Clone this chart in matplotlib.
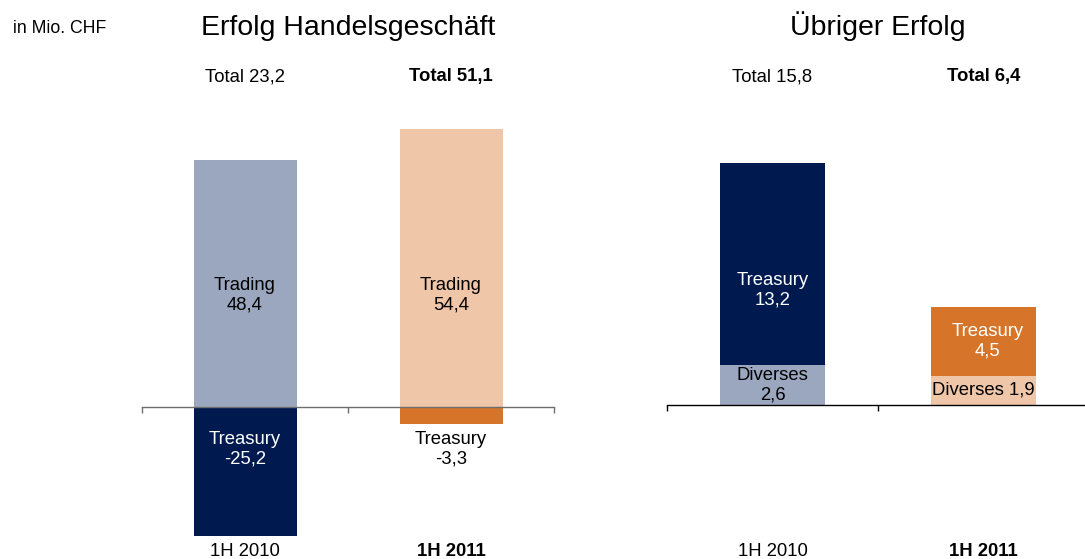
import matplotlib
matplotlib.use('Agg')
import matplotlib.pyplot as plt
from matplotlib.transforms import blended_transform_factory

plt.rcParams['font.family'] = ['Liberation Sans', 'DejaVu Sans']

# ---------------- data ----------------
periods = ['1H 2010', '1H 2011']
handel_trading = [48.4, 54.4]
handel_treasury = [-25.2, -3.3]
handel_total = [23.2, 51.1]
uebrig_diverses = [2.6, 1.9]
uebrig_treasury = [13.2, 4.5]
uebrig_total = [15.8, 6.4]

# ---------------- style ----------------
c10_light = '#9BA7BF'
c10_dark = '#001A50'
c11_light = '#F0C6A8'
c11_dark = '#D67429'
W, H = 1085, 559


def fmt(v):
    return f'{v:.1f}'.replace('.', ',')


def fy(px):  # pixel from top -> figure fraction
    return (H - px) / H


fig = plt.figure(figsize=(W / 100, H / 100), dpi=100)
fig.patch.set_facecolor('white')

FS = 13.3
xpos = [0.5, 1.5]
weights = ['normal', 'bold']

# ---------------- left panel ----------------
zl, sl = 407, 5.11
ylo, yhi = -28, 58
axl = fig.add_axes([142 / W, fy(zl - ylo * sl), 412 / W, (yhi - ylo) * sl / H])
axl.bar(xpos, handel_trading, width=0.5, color=[c10_light, c11_light], zorder=1)
axl.bar(xpos, handel_treasury, width=0.5, color=[c10_dark, c11_dark], zorder=1)
axl.set_xlim(0, 2)
axl.set_ylim(ylo, yhi)

# ---------------- right panel ----------------
zr, sr = 405, 15.3
rlo, rhi = -8, 17
axr = fig.add_axes([667 / W, fy(zr - rlo * sr), 422 / W, (rhi - rlo) * sr / H])
axr.bar(xpos, uebrig_diverses, width=0.5, color=[c10_light, c11_light], zorder=1)
axr.bar(xpos, uebrig_treasury, width=0.5, bottom=uebrig_diverses,
        color=[c10_dark, c11_dark], zorder=1)
axr.set_xlim(0, 2)
axr.set_ylim(rlo, rhi)

for ax, col in [(axl, '#6E6E6E'), (axr, '#000000')]:
    for s in ['top', 'left', 'right']:
        ax.spines[s].set_visible(False)
    ax.spines['bottom'].set_position(('data', 0))
    ax.spines['bottom'].set_color(col)
    ax.spines['bottom'].set_linewidth(1.0)
    ax.set_xticks([0, 1, 2])
    ax.set_xticklabels([])
    ax.set_yticks([])
    ax.tick_params(axis='x', direction='out', length=4, width=1.0, color=col)
    ax.patch.set_alpha(0)

# ---------------- texts ----------------
fig.text(13 / W, fy(33), 'in Mio. CHF', fontsize=12.7, ha='left', va='baseline')

for ax, title, totals in [(axl, 'Erfolg Handelsgeschäft', handel_total),
                          (axr, 'Übriger Erfolg', uebrig_total)]:
    tr = blended_transform_factory(ax.transData, fig.transFigure)
    ax.text(1, fy(35), title, transform=tr, fontsize=20.5, ha='center', va='baseline')
    for i, x in enumerate(xpos):
        ax.text(x, fy(81), 'Total ' + fmt(totals[i]), transform=tr, fontsize=FS,
                ha='center', va='baseline', fontweight=weights[i])
        ax.text(x, fy(556), periods[i], transform=tr, fontsize=FS,
                ha='center', va='baseline', fontweight=weights[i])

# left panel bar labels
trading_label_y = 21.9
treasury_label_y = -8.2
treasury_label_col = ['white', 'black']
for i, x in enumerate(xpos):
    axl.text(x, trading_label_y, 'Trading\n' + fmt(handel_trading[i]), fontsize=FS,
             ha='center', va='center', color='black', linespacing=1.2)
    axl.text(x, treasury_label_y, 'Treasury\n' + fmt(handel_treasury[i]), fontsize=FS,
             ha='center', va='center', color=treasury_label_col[i], linespacing=1.2)

# right panel bar labels
axr.text(xpos[0], uebrig_diverses[0] / 2, 'Diverses\n' + fmt(uebrig_diverses[0]),
         fontsize=FS, ha='center', va='center', color='black', linespacing=1.2)
axr.text(xpos[1], uebrig_diverses[1] / 2, 'Diverses ' + fmt(uebrig_diverses[1]),
         fontsize=FS, ha='center', va='center', color='black')
axr.text(xpos[0], 7.5, 'Treasury\n' + fmt(uebrig_treasury[0]),
         fontsize=FS, ha='center', va='center', color='white', linespacing=1.2)
axr.text(xpos[1] + 0.02, uebrig_diverses[1] + uebrig_treasury[1] / 2,
         'Treasury\n' + fmt(uebrig_treasury[1]),
         fontsize=FS, ha='center', va='center', color='white', linespacing=1.2)

fig.savefig('out.png', dpi=100, facecolor='white')
